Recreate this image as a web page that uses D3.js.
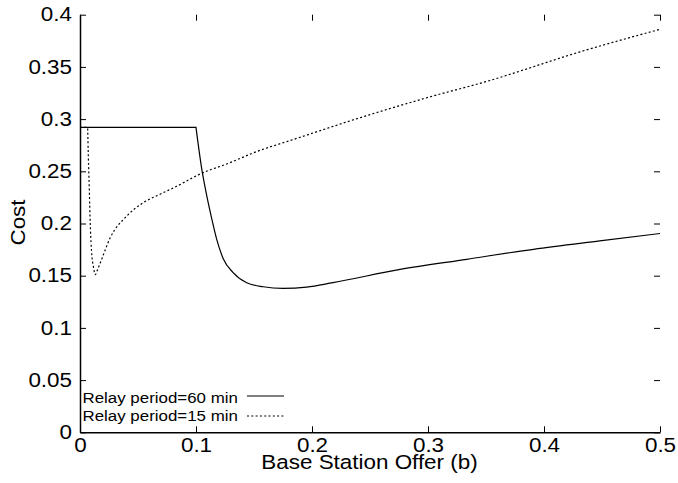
<!DOCTYPE html>
<html>
<head>
<meta charset="utf-8">
<script src="https://cdn.jsdelivr.net/npm/d3@7"></script>
<style>
  html, body { margin: 0; padding: 0; background: #fff; }
  svg { display: block; }
  text { font-family: "Liberation Sans", Arial, Helvetica, sans-serif; fill: #000; }
</style>
</head>
<body>
<svg id="chart" width="678" height="483"></svg>
<script>
// ---- data ----
const b60 = [0, 0.1, 0.1052, 0.1093, 0.1135, 0.1178, 0.1236, 0.132, 0.1437, 0.158, 0.175, 0.1954, 0.218, 0.2759, 0.3333, 0.391, 0.448, 0.5];
const cost60 = [0.292, 0.292, 0.2506, 0.2265, 0.205, 0.185, 0.166, 0.153, 0.1433, 0.1394, 0.1378, 0.139, 0.1433, 0.156, 0.1657, 0.1753, 0.1833, 0.1904];

const b15 = [0, 0.0066, 0.0072, 0.008, 0.0086, 0.0095, 0.0103, 0.0115, 0.0132, 0.0152, 0.0181, 0.0259, 0.0402, 0.0546, 0.069, 0.0833, 0.1034, 0.1264, 0.155, 0.181, 0.2385, 0.296, 0.3534, 0.431, 0.5];
const cost15 = [0.292, 0.292, 0.2637, 0.234, 0.208, 0.182, 0.1686, 0.159, 0.151, 0.156, 0.164, 0.186, 0.207, 0.220, 0.228, 0.2356, 0.2474, 0.257, 0.27, 0.2794, 0.3003, 0.3195, 0.337, 0.3644, 0.386];

const xTicks = [0, 0.1, 0.2, 0.3, 0.4, 0.5];
const yTicks = [0, 0.05, 0.1, 0.15, 0.2, 0.25, 0.3, 0.35, 0.4];
const seriesNames = ["Relay period=60 min", "Relay period=15 min"];
const xTitle = "Base Station Offer (b)";
const yTitle = "Cost";

// ---- layout ----
const svg = d3.select("#chart");
const X0 = 80, X1 = 660, Y0 = 432.3, Y1 = 14.7;
const SX = 1.15;           // horizontal glyph stretch of the original
const fs = 19.5, lfs = 14.7;
const x = d3.scaleLinear().domain([0, 0.5]).range([X0, X1]);
const y = d3.scaleLinear().domain([0, 0.4]).range([Y0, Y1]);

const fmt = d => String(+d.toFixed(2));
const gL = svg.append("g").attr("transform", `translate(${X0},0)`)
  .call(d3.axisLeft(y).tickValues(yTicks).tickSizeInner(-6).tickSizeOuter(0).tickPadding(8).tickFormat(fmt));
const gB = svg.append("g").attr("transform", `translate(0,${Y0})`)
  .call(d3.axisBottom(x).tickValues(xTicks).tickSizeInner(-6).tickSizeOuter(0).tickPadding(6).tickFormat(fmt));
const gT = svg.append("g").attr("transform", `translate(0,${Y1})`)
  .call(d3.axisTop(x).tickValues(xTicks).tickSizeInner(-6).tickSizeOuter(0).tickFormat(""));
const gR = svg.append("g").attr("transform", `translate(${X1},0)`)
  .call(d3.axisRight(y).tickValues(yTicks).tickSizeInner(-6).tickSizeOuter(0).tickFormat(""));
gT.select(".domain").remove();
gR.select(".domain").remove();
[gL, gB, gT, gR].forEach(g => {
  g.selectAll("text").style("font-family", '"Liberation Sans", Arial, sans-serif').style("font-size", fs + "px").attr("fill", "#000");
  g.selectAll("line").attr("stroke", "#000").attr("stroke-width", 1);
  g.select(".domain").attr("stroke", "#000").attr("stroke-width", 1.5);
});
// stretch the tick labels horizontally like the original
gL.selectAll("text").attr("x", -8 / SX).attr("transform", `scale(${SX},1)`);
gB.selectAll("text").attr("transform", `scale(${SX},1)`);

// lines: flat part drawn straight, the rest smooth
const line = d3.line().x(d => x(d[0])).y(d => y(d[1]));
const smooth = d3.line().x(d => x(d[0])).y(d => y(d[1])).curve(d3.curveMonotoneX);
function drawSeries(bs, cs, dash) {
  const pts = bs.map((b, i) => [b, cs[i]]);
  const k = 1; // end of the flat segment
  const flat = pts.slice(0, k + 1), rest = pts.slice(k);
  const dpath = line(flat) + smooth(rest).replace(/^M/, "L");
  const p = svg.append("path").attr("d", dpath)
    .attr("fill", "none").attr("stroke", "#000").attr("stroke-width", 1.2);
  if (dash) p.attr("stroke-dasharray", dash);
}
drawSeries(b15, cost15, "2,2.3");
drawSeries(b60, cost60, null);

// legend
const leg = [
  { name: seriesNames[0], dash: null, ty: 403, ly: 396 },
  { name: seriesNames[1], dash: "2,2.3", ty: 421.5, ly: 416 }
];
leg.forEach(l => {
  svg.append("text").attr("x", 82.5 / SX).attr("y", l.ty).attr("transform", `scale(${SX},1)`)
    .style("font-size", lfs + "px").text(l.name);
  const ln = svg.append("line").attr("x1", 247).attr("x2", 284).attr("y1", l.ly).attr("y2", l.ly)
    .attr("stroke", "#000").attr("stroke-width", 1.2);
  if (l.dash) ln.attr("stroke-dasharray", l.dash);
});

// titles
svg.append("text").attr("x", 369.5 / SX).attr("y", 469.5).attr("transform", `scale(${SX},1)`)
  .attr("text-anchor", "middle").style("font-size", fs + "px").text(xTitle);
svg.append("text").attr("transform", `translate(25,222.5) rotate(-90) scale(${SX},1)`)
  .attr("text-anchor", "middle").style("font-size", fs + "px").text(yTitle);
</script>
</body>
</html>
